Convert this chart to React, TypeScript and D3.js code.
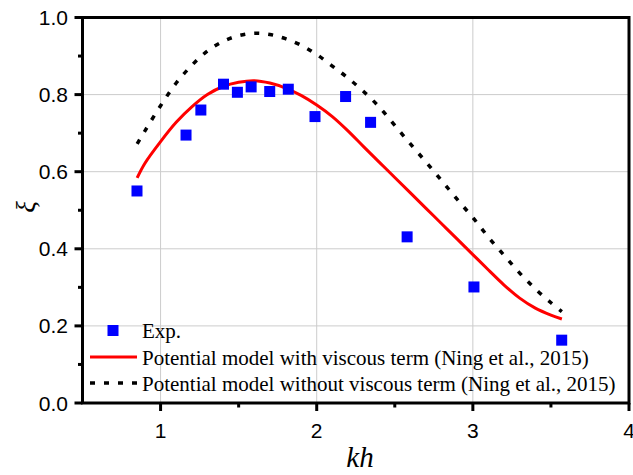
import React from "react";
import * as d3 from "d3";

const expKh = [0.849, 1.163, 1.258, 1.403, 1.492, 1.58, 1.699, 1.818, 1.989, 2.185, 2.345, 2.579, 3.007, 3.569];
const expXi = [0.55, 0.695, 0.76, 0.827, 0.806, 0.82, 0.808, 0.814, 0.743, 0.795, 0.728, 0.431, 0.301, 0.163];

const modelKh = [0.85, 0.9, 1.0, 1.1, 1.2, 1.3, 1.4, 1.5, 1.6, 1.7, 1.8, 1.9, 2.0, 2.1, 2.2, 2.3, 2.4, 2.5, 2.6, 2.7, 2.8, 2.9, 3.0, 3.1, 3.2, 3.3, 3.4, 3.5, 3.57];
const viscousXi = [0.584, 0.622, 0.678, 0.728, 0.768, 0.8, 0.821, 0.832, 0.836, 0.83, 0.817, 0.798, 0.773, 0.743, 0.706, 0.665, 0.625, 0.585, 0.545, 0.505, 0.465, 0.425, 0.385, 0.345, 0.306, 0.272, 0.246, 0.228, 0.218];
const inviscidXi = [0.672, 0.706, 0.771, 0.83, 0.876, 0.913, 0.938, 0.953, 0.959, 0.956, 0.945, 0.928, 0.904, 0.874, 0.843, 0.808, 0.768, 0.72, 0.672, 0.625, 0.577, 0.528, 0.481, 0.43, 0.383, 0.337, 0.296, 0.26, 0.237];

const xTicks = [1, 2, 3, 4];
const xMinor = [1.5, 2.5, 3.5];
const yTicks = [0.0, 0.2, 0.4, 0.6, 0.8, 1.0];
const yMinor = [0.1, 0.3, 0.5, 0.7, 0.9];
const legendLabels = [
  "Exp.",
  "Potential model with viscous term (Ning et al., 2015)",
  "Potential model without viscous term (Ning et al., 2015)",
];

const W = 633, H = 475;
const L = 82.5, R = 629, T = 17.5, B = 403;

export default function App() {
  const x = d3.scaleLinear().domain([0.5, 4]).range([L, R]);
  const y = d3.scaleLinear().domain([0, 1]).range([B, T]);
  const line = d3
    .line<[number, number]>()
    .x((d) => x(d[0]))
    .y((d) => y(d[1]))
    .curve(d3.curveCatmullRom.alpha(0.5));
  const viscous = line(modelKh.map((k, i) => [k, viscousXi[i]]) as [number, number][]) || "";
  const inviscid = line(modelKh.map((k, i) => [k, inviscidXi[i]]) as [number, number][]) || "";
  const sans = "'Liberation Sans', Arial, sans-serif";
  const serif = "'Liberation Serif', 'Times New Roman', serif";
  const sq = 11;
  const legX1 = 90, legX2 = 137, legTextX = 142;
  const legY = [330.5, 357, 383];
  const legBase = [338, 365, 391];
  return (
    <svg width={W} height={H} style={{ position: "absolute", left: 0, top: 0, background: "#fff" }}>
      <rect x={0} y={0} width={W} height={H} fill="#fff" />
      {/* grid */}
      {xTicks.filter((t) => t < 4).map((t) => (
        <line key={"gx" + t} x1={x(t)} x2={x(t)} y1={T} y2={B} stroke="#cccccc" strokeWidth={1} />
      ))}
      {yTicks.filter((t) => t > 0 && t < 1).map((t) => (
        <line key={"gy" + t} x1={L} x2={R} y1={y(t)} y2={y(t)} stroke="#cccccc" strokeWidth={1} />
      ))}
      {/* series */}
      <path d={inviscid} fill="none" stroke="#000" strokeWidth={3.5} strokeDasharray="5 9" />
      <path d={viscous} fill="none" stroke="#ff0000" strokeWidth={3} />
      {expKh.map((k, i) => (
        <rect key={"p" + i} x={x(k) - sq / 2} y={y(expXi[i]) - sq / 2} width={sq} height={sq} fill="#0000ff" />
      ))}
      {/* frame */}
      <rect x={L} y={T} width={R - L} height={B - T} fill="none" stroke="#000" strokeWidth={3} />
      {/* x ticks */}
      {xTicks.map((t) => (
        <g key={"xt" + t}>
          <line x1={x(t)} x2={x(t)} y1={B} y2={B + 8} stroke="#000" strokeWidth={3} />
          <text x={x(t)} y={438} fontFamily={sans} fontSize={21} textAnchor="middle" fill="#000">
            {t}
          </text>
        </g>
      ))}
      {xMinor.map((t) => (
        <line key={"xm" + t} x1={x(t)} x2={x(t)} y1={B} y2={B + 4.5} stroke="#000" strokeWidth={3} />
      ))}
      {/* y ticks */}
      {yTicks.map((t) => (
        <g key={"yt" + t}>
          <line x1={L - 8} x2={L} y1={y(t)} y2={y(t)} stroke="#000" strokeWidth={3} />
          <text x={68} y={y(t) + 7.5} fontFamily={sans} fontSize={21} textAnchor="end" fill="#000">
            {t.toFixed(1)}
          </text>
        </g>
      ))}
      {yMinor.map((t) => (
        <line key={"ym" + t} x1={L - 4.5} x2={L} y1={y(t)} y2={y(t)} stroke="#000" strokeWidth={3} />
      ))}
      {/* axis titles */}
      <text x={360} y={467} fontFamily={serif} fontStyle="italic" fontSize={29} textAnchor="middle" fill="#000">
        kh
      </text>
      <text
        transform={`translate(35, 207) rotate(-90)`}
        fontFamily={serif}
        fontStyle="italic"
        fontSize={27}
        textAnchor="middle"
        fill="#000"
      >
        ξ
      </text>
      {/* legend */}
      <rect x={113 - sq / 2} y={legY[0] - sq / 2} width={sq} height={sq} fill="#0000ff" />
      <line x1={legX1} x2={legX2} y1={legY[1]} y2={legY[1]} stroke="#ff0000" strokeWidth={3} />
      <line x1={legX1} x2={legX2} y1={legY[2]} y2={legY[2]} stroke="#000" strokeWidth={3.5} strokeDasharray="5 9" />
      {legendLabels.map((s, i) => (
        <text key={"l" + i} x={legTextX} y={legBase[i]} fontFamily={serif} fontSize={21} fill="#000">
          {s}
        </text>
      ))}
    </svg>
  );
}
